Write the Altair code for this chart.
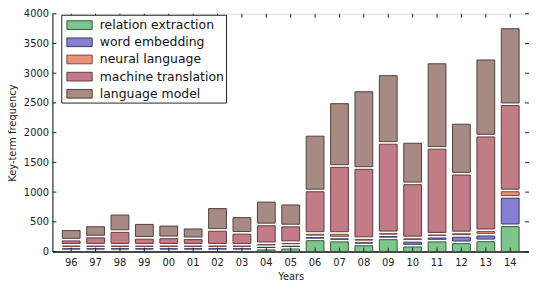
import altair as alt
import pandas as pd

years = ["96", "97", "98", "99", "00", "01", "02", "03", "04", "05",
         "06", "07", "08", "09", "10", "11", "12", "13", "14"]
series = ["relation extraction", "word embedding", "neural language",
          "machine translation", "language model"]
relation_extraction = [25, 25, 25, 25, 25, 25, 25, 25, 50, 65,
                       205, 185, 120, 222, 100, 185, 155, 188, 442]
word_embedding = [40, 40, 40, 40, 40, 40, 40, 40, 40, 45,
                  50, 50, 50, 50, 80, 65, 108, 96, 478]
neural_language = [50, 50, 50, 50, 50, 50, 50, 50, 50, 48,
                   57, 77, 56, 51, 57, 50, 58, 74, 108]
machine_translation = [86, 138, 230, 116, 124, 108, 249, 200, 316, 280,
                       716, 1127, 1180, 1505, 910, 1444, 989, 1592, 1450]
language_model = [152, 165, 269, 226, 190, 157, 359, 256, 376, 346,
                  913, 1049, 1282, 1131, 675, 1415, 832, 1273, 1271]
y_ticks = [0, 500, 1000, 1500, 2000, 2500, 3000, 3500, 4000]

fills = ["#7cc58b", "#8780d1", "#e9907b", "#c27c86", "#a68a83"]
edges = ["#35583c", "#3a3668", "#7c4636", "#5c3a3f", "#4f403c"]

rows = []
for i, (name, vals) in enumerate(zip(series, [relation_extraction, word_embedding,
                                               neural_language, machine_translation,
                                               language_model])):
    for y, v in zip(years, vals):
        rows.append({"year": y, "series": name, "idx": i, "value": v})
df = pd.DataFrame(rows)
ydf = pd.DataFrame({"hi": y_ticks})
xdf = pd.DataFrame({"year": years})

W, H = 483, 241
G = 22  # half-gap between stacked segments, in data units

xscale = alt.Scale(domain=years, paddingInner=0.27, paddingOuter=0.405)
yscale = alt.Scale(domain=[0, 4000], nice=False)
font = "DejaVu Sans"

xaxis = alt.Axis(title="Years", labelAngle=0, ticks=False, domain=True,
                 domainColor="#111", domainWidth=1.5, labelFont=font,
                 labelFontSize=10, labelColor="#222", labelPadding=6,
                 titleFont=font, titleFontSize=10, titleFontWeight="normal",
                 titleColor="#222", titlePadding=4)
yaxis = alt.Axis(title="Key-term frequency", values=y_ticks, format="d", ticks=False,
                 grid=False, domain=True, domainColor="#111", labelFont=font,
                 labelFontSize=10, labelColor="#222", labelPadding=4,
                 titleFont=font, titleFontSize=10, titleFontWeight="normal",
                 titleColor="#222", titlePadding=6)

bars = alt.Chart(df).transform_stack(
    stack="value", groupby=["year"], as_=["v0", "v1"],
    sort=[alt.SortField("idx", order="ascending")]
).transform_calculate(
    lo=f"datum.v0 > 0 ? datum.v0 + {G} : 0",
    hi=f"datum.idx == 4 ? datum.v1 : datum.v1 - {G}"
).mark_bar(strokeWidth=1, opacity=1).encode(
    x=alt.X("year:N", scale=xscale, sort=years, axis=xaxis),
    y=alt.Y("hi:Q", scale=yscale, axis=yaxis),
    y2="lo:Q",
    fill=alt.Fill("series:N", scale=alt.Scale(domain=series, range=fills),
                  legend=alt.Legend(title=None, orient="none", legendX=9, legendY=1,
                                    symbolType="M-1.6,-0.55H1.6V0.55H-1.6Z", symbolSize=256,
                                    symbolOffset=8,
                                    symbolStrokeWidth=1, symbolStrokeColor="#333",
                                    symbolOpacity=1, labelFont=font, labelFontSize=12.6,
                                    labelColor="#111", labelOffset=12, rowPadding=1.4,
                                    padding=2, strokeColor="#222", fillColor="white",
                                    cornerRadius=0)),
    stroke=alt.Stroke("series:N", scale=alt.Scale(domain=series, range=edges), legend=None),
    order=alt.Order("idx:Q"),
)

tick_col = "#222"
yl = alt.Chart(ydf).mark_rule(color=tick_col, strokeWidth=1).encode(
    y=alt.Y("hi:Q", scale=yscale, axis=yaxis), x=alt.value(0), x2=alt.value(4))
yr = alt.Chart(ydf).mark_rule(color=tick_col, strokeWidth=1).encode(
    y=alt.Y("hi:Q", scale=yscale, axis=yaxis), x=alt.value(W - 4), x2=alt.value(W))
xb = alt.Chart(xdf).mark_rule(color=tick_col, strokeWidth=1).encode(
    x=alt.X("year:N", scale=xscale, sort=years, axis=xaxis), y=alt.value(H), y2=alt.value(H - 4))
xt = alt.Chart(xdf).mark_rule(color=tick_col, strokeWidth=1).encode(
    x=alt.X("year:N", scale=xscale, sort=years, axis=xaxis), y=alt.value(0), y2=alt.value(4))

chart = alt.layer(bars, yl, yr, xb, xt).properties(
    width=W, height=H,
    padding={"left": 45, "top": 4, "right": 0, "bottom": 30},
    autosize=alt.AutoSizeParams(type="none"),
).configure_view(stroke="#111", strokeWidth=1).configure(background="white")

chart.save("out.html", embed_options={"renderer": "svg", "actions": False})
